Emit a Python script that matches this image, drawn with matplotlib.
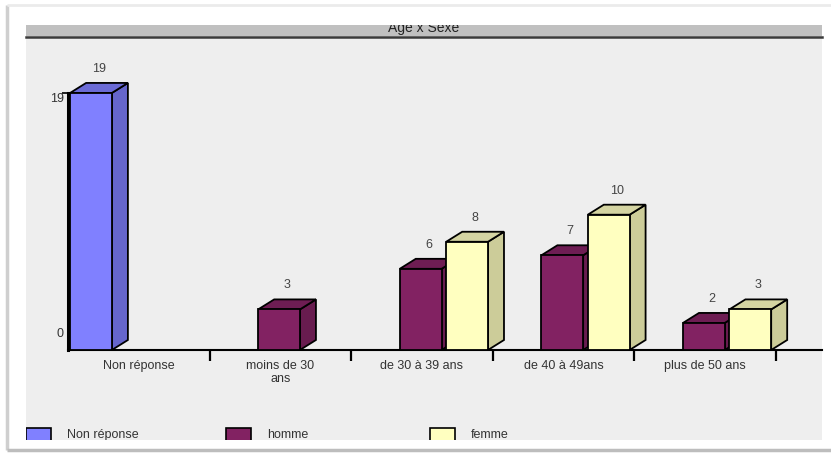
import matplotlib
matplotlib.use("Agg")
import matplotlib.pyplot as plt
import matplotlib.transforms as mtransforms
from matplotlib.patches import Polygon, Rectangle

# données du graphique
title = "Age x Sexe"
categories = ["Non réponse", "moins de 30\nans", "de 30 à 39 ans", "de 40 à 49ans", "plus de 50 ans"]
series = ["Non réponse", "homme", "femme"]
non_reponse = [19, 0, 0, 0, 0]
homme = [0, 3, 6, 7, 2]
femme = [0, 0, 8, 10, 3]
y_ticks = [0, 19]

front_colors = ["#8080FF", "#822262", "#FFFFC0"]
side_colors = ["#6666CC", "#681C4F", "#CCCC99"]
top_colors = ["#6B6BD6", "#6E1D53", "#D4D4A2"]

plt.rcParams['font.family'] = ['Liberation Sans Narrow', 'Liberation Sans', 'DejaVu Sans']

W, H = 831, 457
fig = plt.figure(figsize=(W / 100, H / 100), dpi=100)

# fond (coordonnées en pixels)
bg = fig.add_axes([0, 0, 1, 1], zorder=0)
bg.set_xlim(0, W)
bg.set_ylim(H, 0)
bg.axis('off')

bg.plot([7, 7], [5, 450], color="#CFCFCF", lw=2.5, solid_capstyle='butt')
bg.plot([7, W], [450, 450], color="#BDBDBD", lw=2.5, solid_capstyle='butt')
bg.plot([7, W], [5, 5], color="#EBEBEB", lw=2, solid_capstyle='butt')

panel = Rectangle((26, 25), 796, 415, fc="#EEEEEE", ec="none")
bg.add_patch(panel)
bar_rect = Rectangle((26, 25), 796, 11, fc="#C0C0C0", ec="none")
bg.add_patch(bar_rect)
bg.plot([26, 822], [37, 37], color="#3A3A3A", lw=1.8)
t = bg.text(424, 32, title, ha='center', va='baseline', fontsize=10, color="#222222", clip_on=True)
t.set_clip_path(bar_rect)

# légende (coupée par le bas du panneau)
leg_x = [26, 226, 430]
for k, name in enumerate(series):
    r = Rectangle((leg_x[k], 428), 25, 16, fc=front_colors[k], ec="black", lw=1.2)
    bg.add_patch(r)
    r.set_clip_path(panel)
    lt = bg.text(leg_x[k] + 41, 435, name, ha='left', va='center', fontsize=9, color="#333333",
                 clip_on=True)
    lt.set_clip_path(panel)

# axes principaux
px_x = 141.6   # pixels par catégorie
px_y = 13.53   # pixels par unité
ax = fig.add_axes([68 / W, (H - 350) / H, (822 - 68) / W, (350 - 38) / H], zorder=1)
ax.patch.set_alpha(0)
ax.set_xlim(0, (822 - 68) / px_x)
ax.set_ylim(0, (350 - 38) / px_y)

for side in ['top', 'right']:
    ax.spines[side].set_visible(False)
ax.spines['bottom'].set_linewidth(1.5)
ax.spines['left'].set_linewidth(2.2)
ax.spines['left'].set_bounds(0, max(y_ticks))

ax.set_xticks(range(1, len(categories) + 1))
ax.set_xticklabels([])
ax.tick_params(axis='x', which='major', direction='out', length=8, width=1.6)
ax.set_xticks([i + 0.5 for i in range(len(categories))], minor=True)
ax.set_xticklabels(categories, minor=True, fontsize=9, color="#333333", linespacing=1.1)
ax.tick_params(axis='x', which='minor', length=0, pad=7)

ax.set_yticks([max(y_ticks)])
ax.set_yticklabels([])
ax.tick_params(axis='y', direction='out', length=4, width=1.2)
for v in y_ticks:
    if v == max(y_ticks):
        ax.text(-0.03, v, str(v), ha='right', va='top', fontsize=9, color="#333333", clip_on=False)
    else:
        off = mtransforms.ScaledTranslation(0, 10 / 100, fig.dpi_scale_trans)
        ax.text(-0.03, v, str(v), ha='right', va='bottom', fontsize=9, color="#333333",
                clip_on=False, transform=ax.transData + off)

# barres en 3D
dx = 16 / px_x
dy = 10 / px_y
w = 0.295
label_off = mtransforms.ScaledTranslation(0, 8 / 100, fig.dpi_scale_trans)
for s, vals in enumerate([non_reponse, homme, femme]):
    for i, v in enumerate(vals):
        if v == 0:
            continue
        x0 = i + 0.015 + s * 0.328
        x1 = x0 + w
        ax.add_patch(Polygon([(x1, 0), (x1 + dx, dy), (x1 + dx, v + dy), (x1, v)],
                             closed=True, fc=side_colors[s], ec="black", lw=1.3, zorder=3 + i * 3 + s))
        ax.add_patch(Polygon([(x0, v), (x0 + dx, v + dy), (x1 + dx, v + dy), (x1, v)],
                             closed=True, fc=top_colors[s], ec="black", lw=1.3, zorder=3 + i * 3 + s))
        ax.add_patch(Rectangle((x0, 0), w, v, fc=front_colors[s], ec="black", lw=1.3,
                               zorder=3 + i * 3 + s))
        ax.text(x0 + w / 2 + dx / 2, v + dy, str(v), ha='center', va='bottom', fontsize=9,
                color="#444444", transform=ax.transData + label_off)

fig.savefig("out.png", dpi=100)
